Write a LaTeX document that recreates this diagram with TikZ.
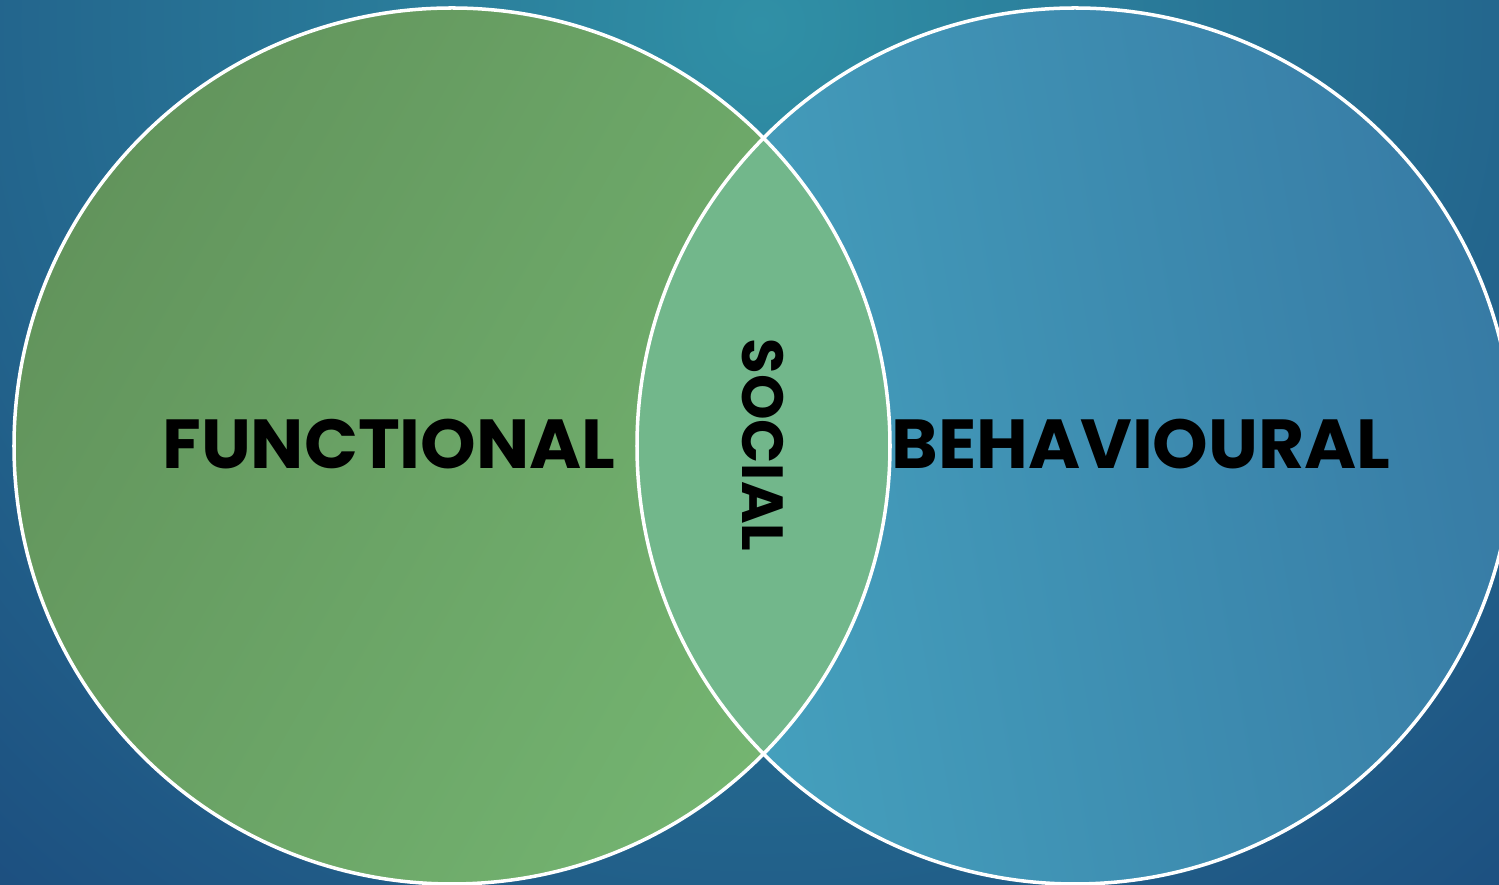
\documentclass[tikz,border=0pt]{standalone}
\usepackage{fontspec}
\setmainfont{Poppins}
\usepackage{tikz}

\begin{document}
\begin{tikzpicture}[x=0.02cm, y=0.02cm,
    venntext/.style={font=\bfseries\fontsize{39.5}{40}\selectfont, text=black, inner sep=0pt},
    vennedge/.style={draw=white, line width=2pt}]
    % Define colors
    \definecolor{bgdark}{HTML}{1A477B}
    \definecolor{bgteal}{HTML}{3090A6}
    \definecolor{greendark}{HTML}{62945C}
    \definecolor{greenlight}{HTML}{74B571}
    \definecolor{bluelight}{HTML}{46A3BF}
    \definecolor{bluedark}{HTML}{377BA5}
    \definecolor{lensgreen}{HTML}{72B78B}

    \useasboundingbox (0,0) rectangle (1499,885);
    \clip (0,0) rectangle (1499,885);

    % Background
    \fill[bgdark] (0,0) rectangle (1499,885);
    \shade[inner color=bgteal, outer color=bgdark] (760,860) circle (1300);

    % Left circle (functional)
    \shade[left color=greendark, right color=greenlight, shading angle=60]
        (452,439) circle (438);

    % Right circle (behavioural)
    \shade[left color=bluelight, right color=bluedark, shading angle=100]
        (1075,439) circle (438);

    % Overlap (social)
    \begin{scope}
        \clip (452,439) circle (438);
        \fill[lensgreen] (1075,439) circle (438);
    \end{scope}

    % Outlines
    \draw[vennedge] (452,439) circle (438);
    \draw[vennedge] (1075,439) circle (438);

    % Labels
    \node[venntext, xscale=1.02] (functional) at (389,441) {FUNCTIONAL};
    \node[venntext, xscale=1.02] (behavioural) at (1141,441) {BEHAVIOURAL};
    \node[venntext, font=\bfseries\fontsize{33}{33}\selectfont, rotate=-90] (social) at (763,440) {SOCIAL};
\end{tikzpicture}
\end{document}
